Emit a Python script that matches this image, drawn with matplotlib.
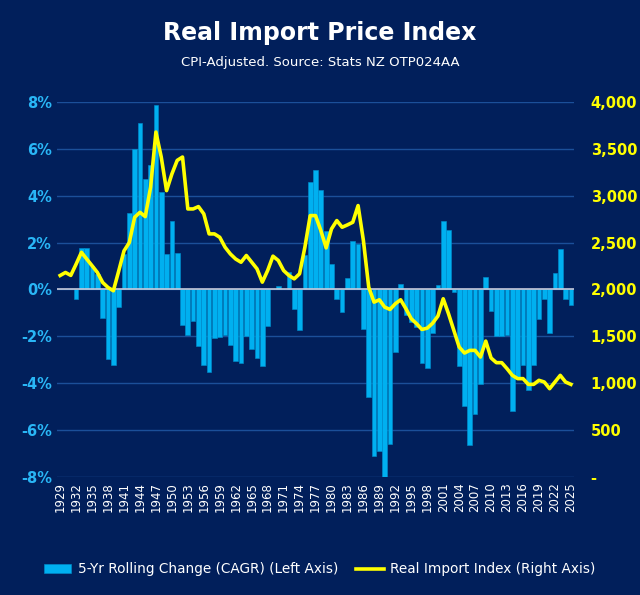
import matplotlib.pyplot as plt
from matplotlib.ticker import FuncFormatter

years = list(range(1929, 2026))

# 5-yr rolling CAGR, %
cagr = [0.0, 0.0, 0.0, -0.4, 1.75, 1.75, 1.0, 0.66, -1.2, -2.96,
        -3.2, -0.76, 1.53, 3.27, 6.0, 7.1, 4.72, 5.3, 7.85, 4.16,
        1.53, 2.9, 1.56, -1.5, -1.94, -1.33, -2.4, -3.2, -3.5, -2.08,
        -2.03, -1.94, -2.35, -3.04, -3.15, -1.97, -2.54, -2.9, -3.25, -1.54,
        0.02, 0.16, 0.03, 0.74, -0.83, -1.73, 1.45, 4.59, 5.1, 4.26,
        2.5, 1.1, -0.4, -0.94, 0.48, 2.06, 1.92, -1.68, -4.6, -7.1,
        -6.9, -8.1, -6.6, -2.65, 0.24, -1.08, -1.37, -1.58, -3.15, -3.35,
        -1.86, 0.2, 2.9, 2.55, -0.1, -3.25, -4.96, -6.63, -5.32, -4.03,
        0.55, -0.9, -1.97, -1.97, -1.94, -5.2, -3.75, -3.2, -4.27, -3.2,
        -1.25, -0.42, -1.87, 0.69, 1.73, -0.42, -0.65]

# Real import index
index = [2149, 2181, 2150, 2270, 2396, 2324, 2253, 2181, 2074, 2021,
         1986, 2195, 2411, 2500, 2769, 2822, 2776, 3089, 3677, 3411,
         3053, 3230, 3375, 3411, 2858, 2858, 2883, 2805, 2592, 2592,
         2556, 2450, 2378, 2324, 2290, 2362, 2291, 2220, 2078, 2202,
         2355, 2309, 2202, 2149, 2113, 2167, 2450, 2787, 2787, 2628,
         2443, 2645, 2734, 2663, 2688, 2716, 2894, 2521, 2025, 1865,
         1890, 1812, 1787, 1848, 1890, 1794, 1688, 1635, 1574, 1588,
         1640, 1716, 1901, 1741, 1564, 1387, 1323, 1351, 1351, 1280,
         1450, 1270, 1220, 1220, 1156, 1085, 1050, 1050, 989, 989,
         1032, 1014, 943, 1014, 1085, 1014, 989]

bg = '#011f5b'
fig = plt.figure(figsize=(6.4, 5.95), dpi=100, facecolor=bg)
ax = fig.add_axes([0.089, 0.198, 0.808, 0.631], facecolor=bg)
ax2 = ax.twinx()

ax.set_ylim(-8, 8)
ax.set_yticks(range(-8, 9, 2))
ax.yaxis.grid(True, color='#1b4f99', lw=1)
ax.set_axisbelow(True)
ax.bar(years, cagr, width=0.88, color='#00b0f0', edgecolor='#0090d0', lw=0.4,
       label='5-Yr Rolling Change (CAGR) (Left Axis)', zorder=2)
ax.axhline(0, color='#c8c8d8', lw=1.2, zorder=3)
ax.yaxis.set_major_formatter(FuncFormatter(lambda v, p: f'{v:.0f}%'))
ax.set_xlim(1928.4, 2025.6)
ax.set_xticks(years[::3])
ax.set_xticklabels([str(y) for y in years[::3]], rotation=90, color='white', fontsize=8.5)
ax.tick_params(axis='y', colors='#29b6f6', labelsize=10.5, length=0)
ax.tick_params(axis='x', length=0)
for t in ax.get_yticklabels():
    t.set_fontweight('bold')

ax2.plot(years, index, color='#ffff00', lw=2.6, label='Real Import Index (Right Axis)', zorder=4)
ax2.set_ylim(0, 4000)
ax2.set_yticks(range(0, 4001, 500))
ax2.yaxis.set_major_formatter(FuncFormatter(lambda v, p: '-' if v == 0 else f'{v:,.0f}'))
ax2.tick_params(axis='y', colors='#ffff00', labelsize=10.5, length=0, pad=12)
for t in ax2.get_yticklabels():
    t.set_fontweight('bold')

for a in (ax, ax2):
    for s in a.spines.values():
        s.set_visible(False)

fig.text(0.5, 0.945, 'Real Import Price Index', color='white', fontsize=17,
         fontweight='bold', ha='center', va='center')
fig.text(0.5, 0.895, 'CPI-Adjusted. Source: Stats NZ OTP024AA', color='white',
         fontsize=9.5, ha='center', va='center')

h1, l1 = ax.get_legend_handles_labels()
h2, l2 = ax2.get_legend_handles_labels()
fig.legend(h1 + h2, l1 + l2, loc='center', bbox_to_anchor=(0.5, 0.043), ncol=2,
           frameon=False, labelcolor='white', fontsize=9.8, handlelength=2.0,
           handletextpad=0.5, columnspacing=1.3)

fig.savefig('out.png', dpi=100, facecolor=bg)
